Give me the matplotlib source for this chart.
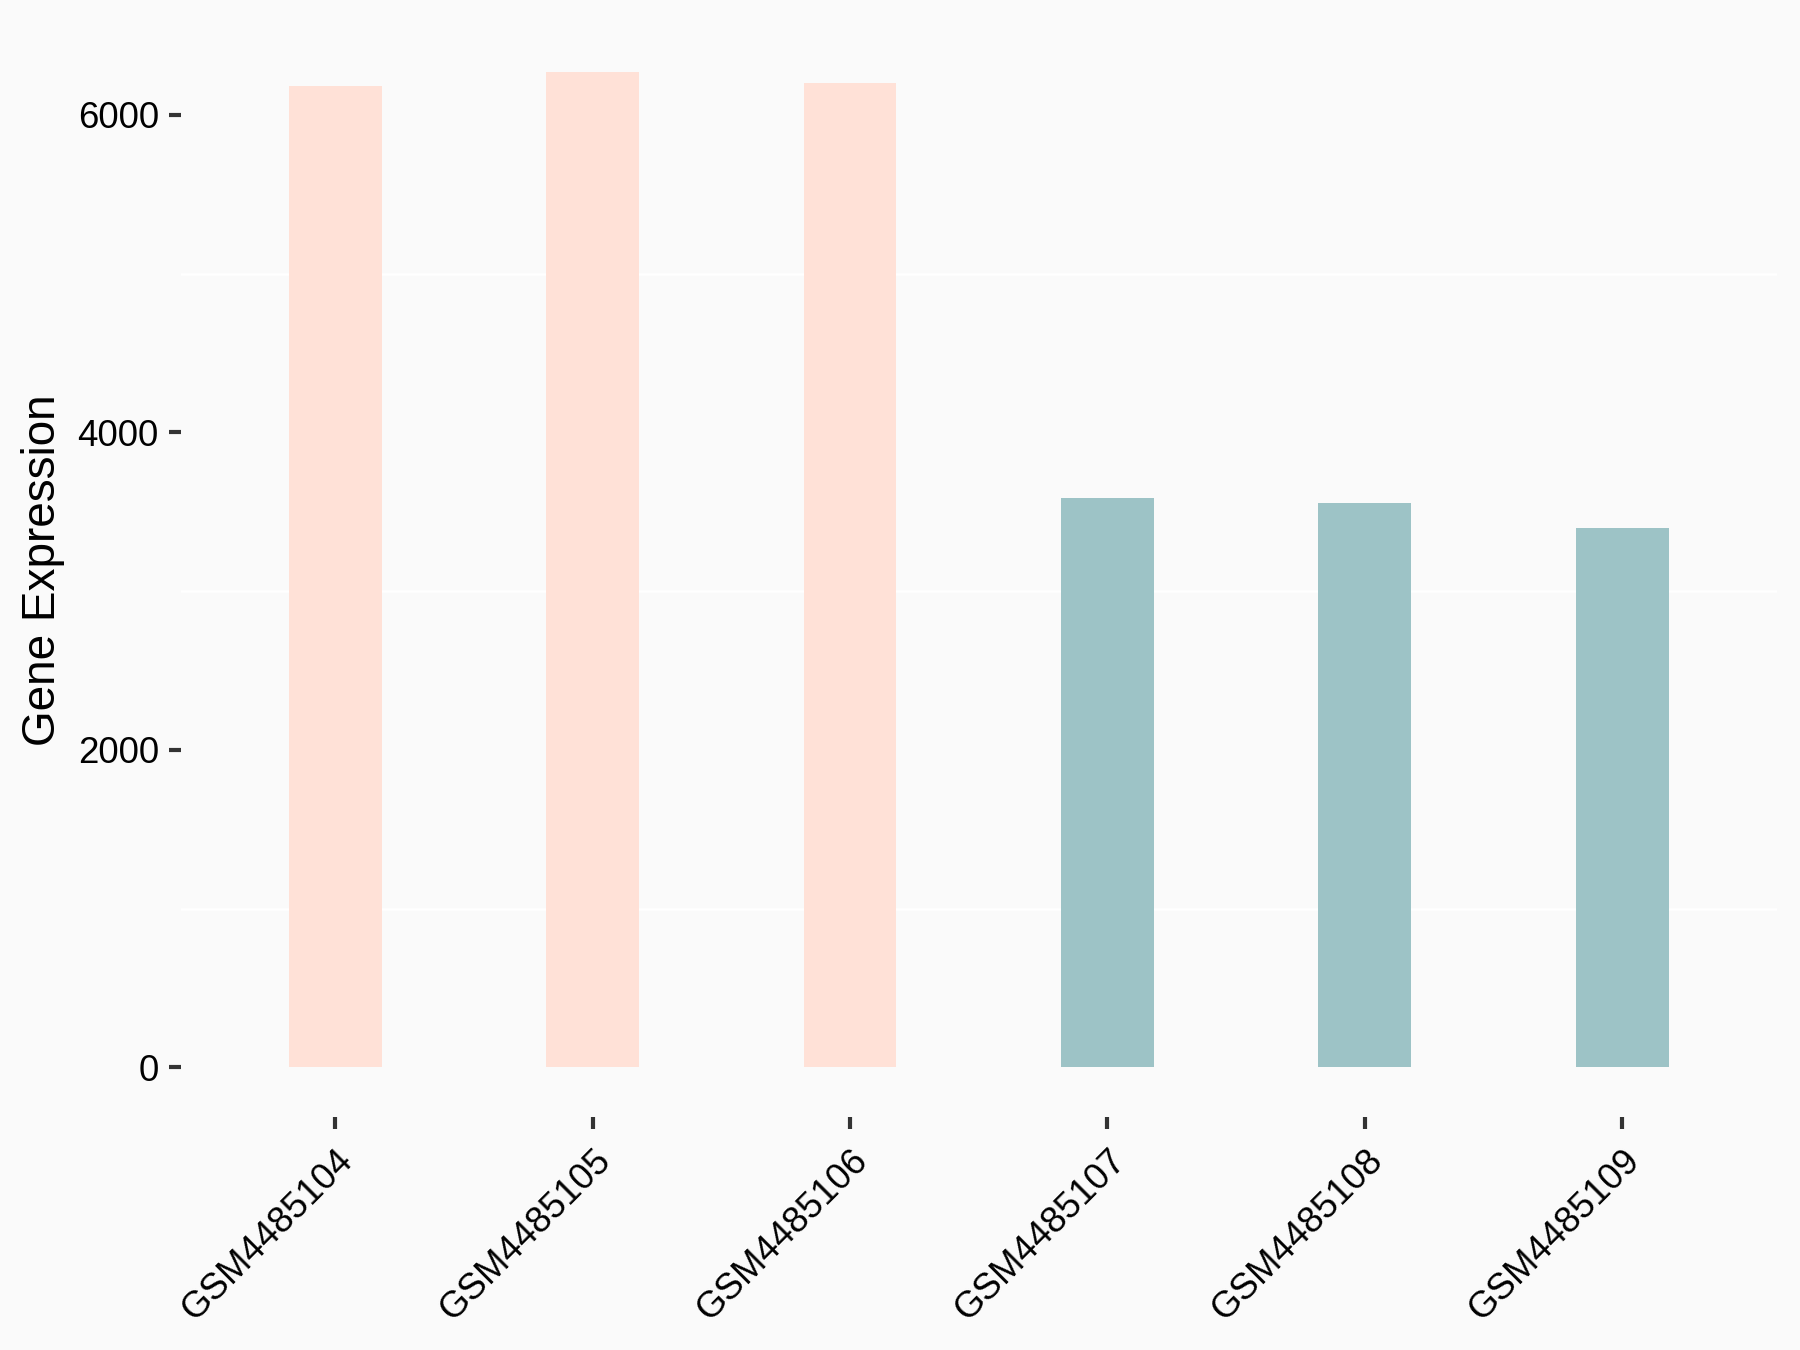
import numpy as np
from matplotlib import pyplot as plt
from matplotlib.ticker import MultipleLocator

plt.rcParams['font.family'] = ['Liberation Sans', 'DejaVu Sans']

samples = ['GSM4485104', 'GSM4485105', 'GSM4485106',
           'GSM4485107', 'GSM4485108', 'GSM4485109']
expression = [6182, 6268, 6203, 3587, 3556, 3398]
groups = ['A', 'A', 'A', 'B', 'B', 'B']

bg = '#FAFAFA'
groupColor = {'A': '#FFE1D7', 'B': '#9DC3C6'}

fig = plt.figure(figsize=(6, 4.5), dpi=300, facecolor=bg)
ax = fig.add_axes([0.1005, 0.1726, 0.8865, 0.8107])
ax.set_facecolor(bg)

x = np.arange(1, len(samples) + 1)
ax.bar(x, expression, width=0.36, color=[groupColor[g] for g in groups], zorder=2)

ymax = max(expression)
ax.set_xlim(0.4, len(samples) + 0.6)
ax.set_ylim(-0.05 * ymax, 1.05 * ymax)

ax.yaxis.set_major_locator(MultipleLocator(2000))
ax.yaxis.set_minor_locator(MultipleLocator(1000))
ax.grid(False)
for v in [1000, 3000, 5000]:
    ax.axhline(v, color='white', linewidth=0.6, zorder=1)

ax.set_xticks(x)
ax.set_xticklabels(samples, rotation=45, ha='right', va='top', rotation_mode='anchor')
ax.tick_params(axis='both', which='major', length=2.9, width=1.0, color='#333333',
               labelsize=8.8, labelcolor='black')
ax.tick_params(axis='x', pad=3.4)
ax.tick_params(axis='y', pad=2.4)
ax.tick_params(axis='y', which='minor', length=0)

for s in ax.spines.values():
    s.set_visible(False)

ax.set_ylabel('Gene Expression', fontsize=11, color='black')
ax.yaxis.label.set_va('center')
ax.yaxis.set_label_coords(-0.0867, 0.5)

plt.savefig('out.png', dpi=300, facecolor=bg)
